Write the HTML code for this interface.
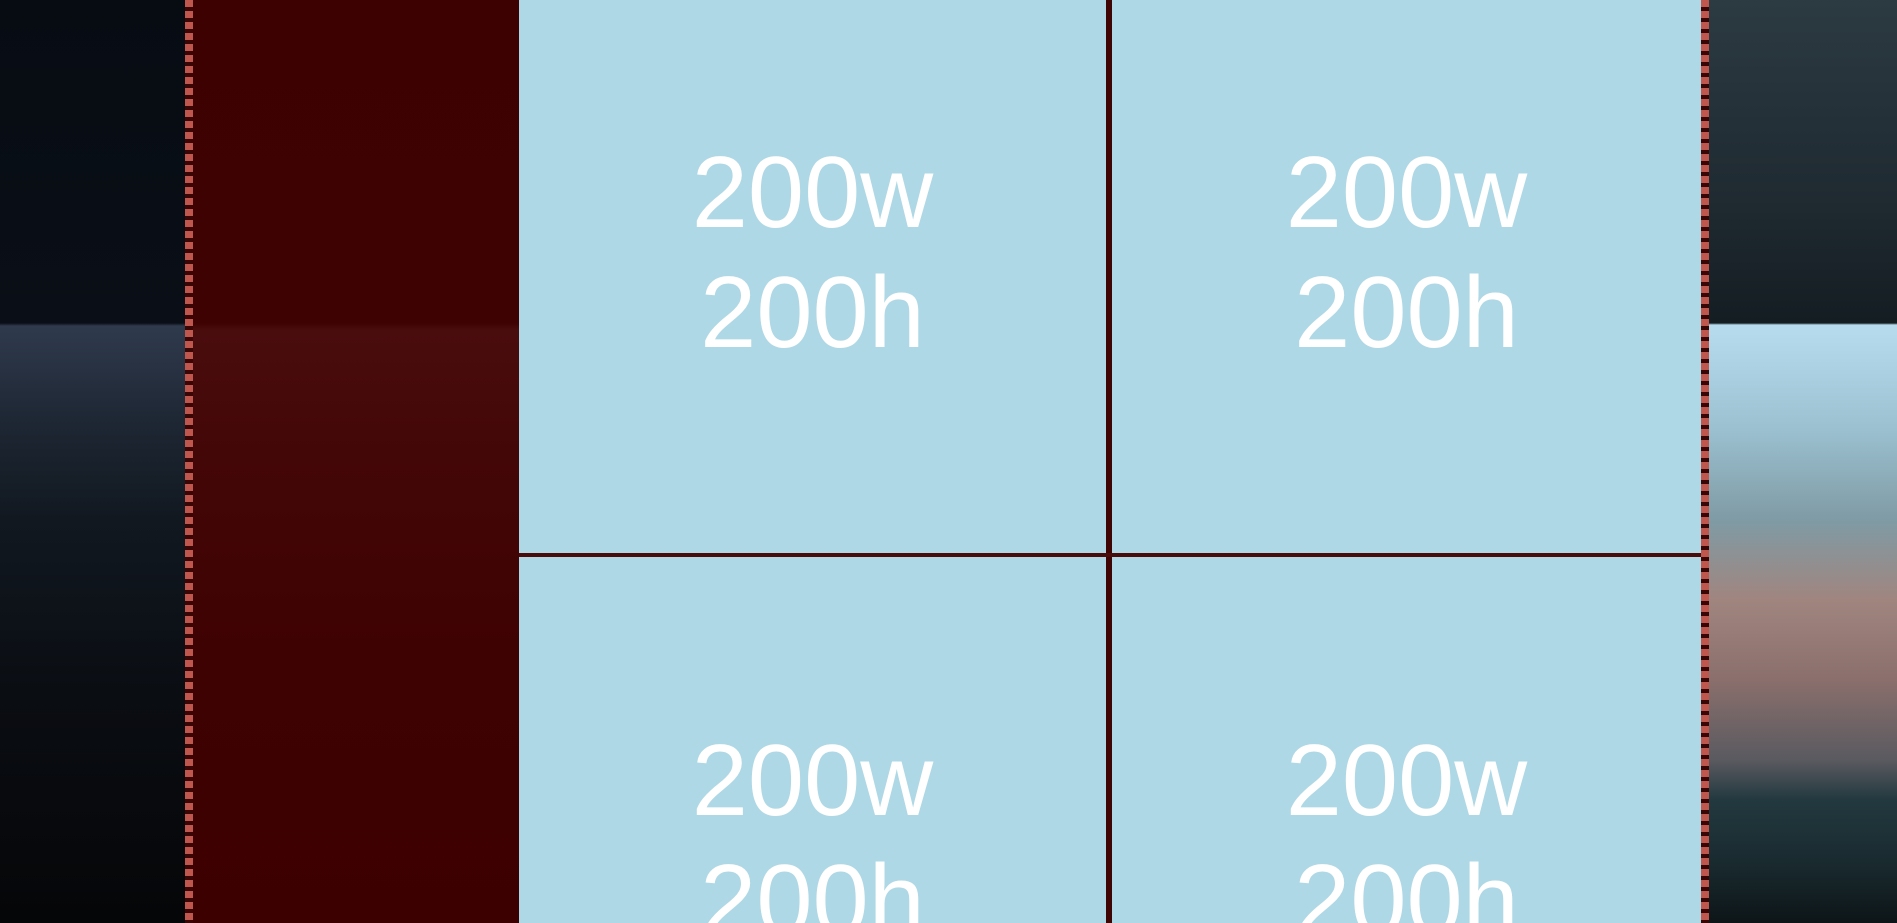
<!DOCTYPE html>
<html><head><meta charset="utf-8"><style>
html,body{margin:0;padding:0;width:1897px;height:923px;overflow:hidden;background:#0d1518}
.abs{position:absolute}
.tile{position:absolute;background:#aed8e5;overflow:hidden}
.t{position:absolute;left:0;width:100%;text-align:center;color:#fff;font-family:"Liberation Sans",Arial,sans-serif;font-size:101px;line-height:120px}
.border{position:absolute;top:0;height:923px;width:8px;background:repeating-linear-gradient(180deg,#c0574f 0 7px,#3a0505 7px 11px)}
</style></head><body>
<div class="abs" style="left:0;top:0;width:185px;height:923px;background:linear-gradient(180deg,#070c13 0,#0a0f17 323px,#2f3a4d 326px,#1e2734 420px,#111820 520px,#0a0d12 700px,#050608 923px)"></div>
<div class="border" style="left:185px"></div>
<div class="abs" style="left:193px;top:0;width:326px;height:923px;background:linear-gradient(180deg,#3d0101 0,#3e0202 323px,#4a0d0e 330px,#440707 450px,#3f0202 650px,#3d0000 923px)"></div>
<div class="tile" style="left:519px;top:0;width:587px;height:553px">
 <div class="t" style="top:133px">200w<br>200h</div></div>
<div class="tile" style="left:1112px;top:0;width:589px;height:553px">
 <div class="t" style="top:133px">200w<br>200h</div></div>
<div class="tile" style="left:519px;top:557px;width:587px;height:366px">
 <div class="t" style="top:164px">200w<br>200h</div></div>
<div class="tile" style="left:1112px;top:557px;width:589px;height:366px">
 <div class="t" style="top:164px">200w<br>200h</div></div>
<div class="abs" style="left:1106px;top:0;width:6px;height:923px;background:#3f0505"></div>
<div class="abs" style="left:519px;top:553px;width:1182px;height:4px;background:#4a0b0b"></div>
<div class="border" style="left:1701px"></div>
<div class="abs" style="left:1709px;top:0;width:188px;height:923px;background:linear-gradient(180deg,#2c3a42 0,#1f2a31 200px,#141d22 323px,#b6dcee 325px,#9ec4d4 420px,#7f9ba5 520px,#a0857f 600px,#8a6f6c 680px,#5a5a60 760px,#22393f 800px,#1a2b30 860px,#0d1518 923px)"></div>
</body></html>
